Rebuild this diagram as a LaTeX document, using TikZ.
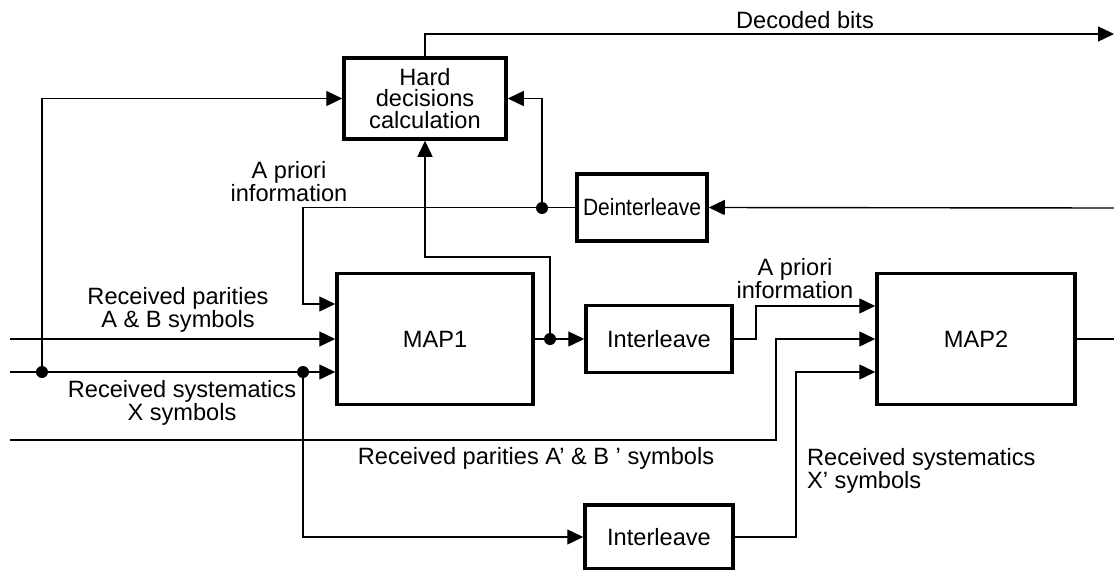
\documentclass[tikz,border=0pt]{standalone}
\usepackage{fontspec}
\usepackage{graphicx}
\setmainfont{Liberation Sans}
\usetikzlibrary{arrows.meta}
\begin{document}
\begin{tikzpicture}[x=1pt,y=-1pt,
  box/.style={draw,line width=3.5pt,inner sep=0pt,align=center},
  conn/.style={line width=1.4pt},
  arr/.style={conn,-{Triangle[length=16pt,width=15pt]}},
  dot/.style={circle,fill,inner sep=0pt,minimum size=12pt},
  lbl/.style={align=center,inner sep=0pt},
  every node/.style={font=\fontsize{23.6}{21.5}\selectfont}]
\useasboundingbox (0,0) rectangle (1114,570);
% boxes
\node[box,minimum width=162pt,minimum height=81pt] (hard) at (425,98.5) {Hard\\decisions\\calculation};
\node[box,minimum width=130pt,minimum height=67pt] (deint) at (642,207.5) {\scalebox{0.89}[1]{Deinterleave}};
\node[box,minimum width=196pt,minimum height=131pt] (map1) at (435,339) {MAP1};
\node[box,minimum width=146pt,minimum height=67pt] (int1) at (659,339) {Interleave};
\node[box,minimum width=198pt,minimum height=131pt] (map2) at (976,339) {MAP2};
\node[box,minimum width=148pt,minimum height=64pt] (int2) at (659,537) {Interleave};
% coordinates
\coordinate (decEnd) at (1114,34);
\coordinate (dinStart) at (1114,208);
\coordinate (outEnd) at (1114,339);
\coordinate (inPar) at (10,339);
\coordinate (inSys) at (10,372);
\coordinate (inPar2) at (10,440);
\coordinate (yA) at (303,304);
\coordinate (k1) at (776,339);
\coordinate (k2) at (796,372);
\coordinate (k3) at (756,306);
\coordinate (k4) at (550,257);
% dots
\node[dot] (d1) at (42,372) {};
\node[dot] (d2) at (303,372) {};
\node[dot] (d3) at (542,208) {};
\node[dot] (d4) at (550,339) {};
% connectors
\draw[arr] (hard.north) |- (decEnd);
\draw[arr] (dinStart) -- (deint.east);
\draw[arr] (deint.west) -| (yA) -- (map1.west |- yA);
\draw[arr] (d3.center) |- (hard.east);
\draw[arr] (d1.center) |- (hard.west);
\draw[arr] (inPar) -- (map1.west |- inPar);
\draw[arr] (inSys) -- (map1.west |- inSys);
\draw[arr] (d2.center) |- (int2.west);
\draw[arr] (inPar2) -| (k1) -- (map2.west |- k1);
\draw[arr] (int2.east) -| (k2) -- (map2.west |- k2);
\draw[arr] (int1.east) -| (k3) -- (map2.west |- k3);
\draw[conn] (map1.east |- d4) -- (d4.center);
\draw[arr] (d4.center) -- (int1.west |- d4);
\draw[arr] (d4.center) -- (k4) -| (hard.south);
\draw[conn] (map2.east) -- (outEnd);
% labels
\node[lbl] (ldec) at (805,20) {Decoded bits};
\node[lbl] (lap1) at (289,182) {A priori\\information};
\node[lbl] (lrp) at (178,310) {Received parities\\A \& B symbols};
\node[lbl] (lrs) at (182,403) {Received systematics\\X symbols};
\node[lbl] (lrp2) at (536,458) {Received parities A' \& B ' symbols};
\node[lbl,align=left,anchor=west] (lrs2) at (807,471) {Received systematics\\X' symbols};
\node[lbl] (lap2) at (795,279) {A priori\\information};
\end{tikzpicture}
\end{document}
